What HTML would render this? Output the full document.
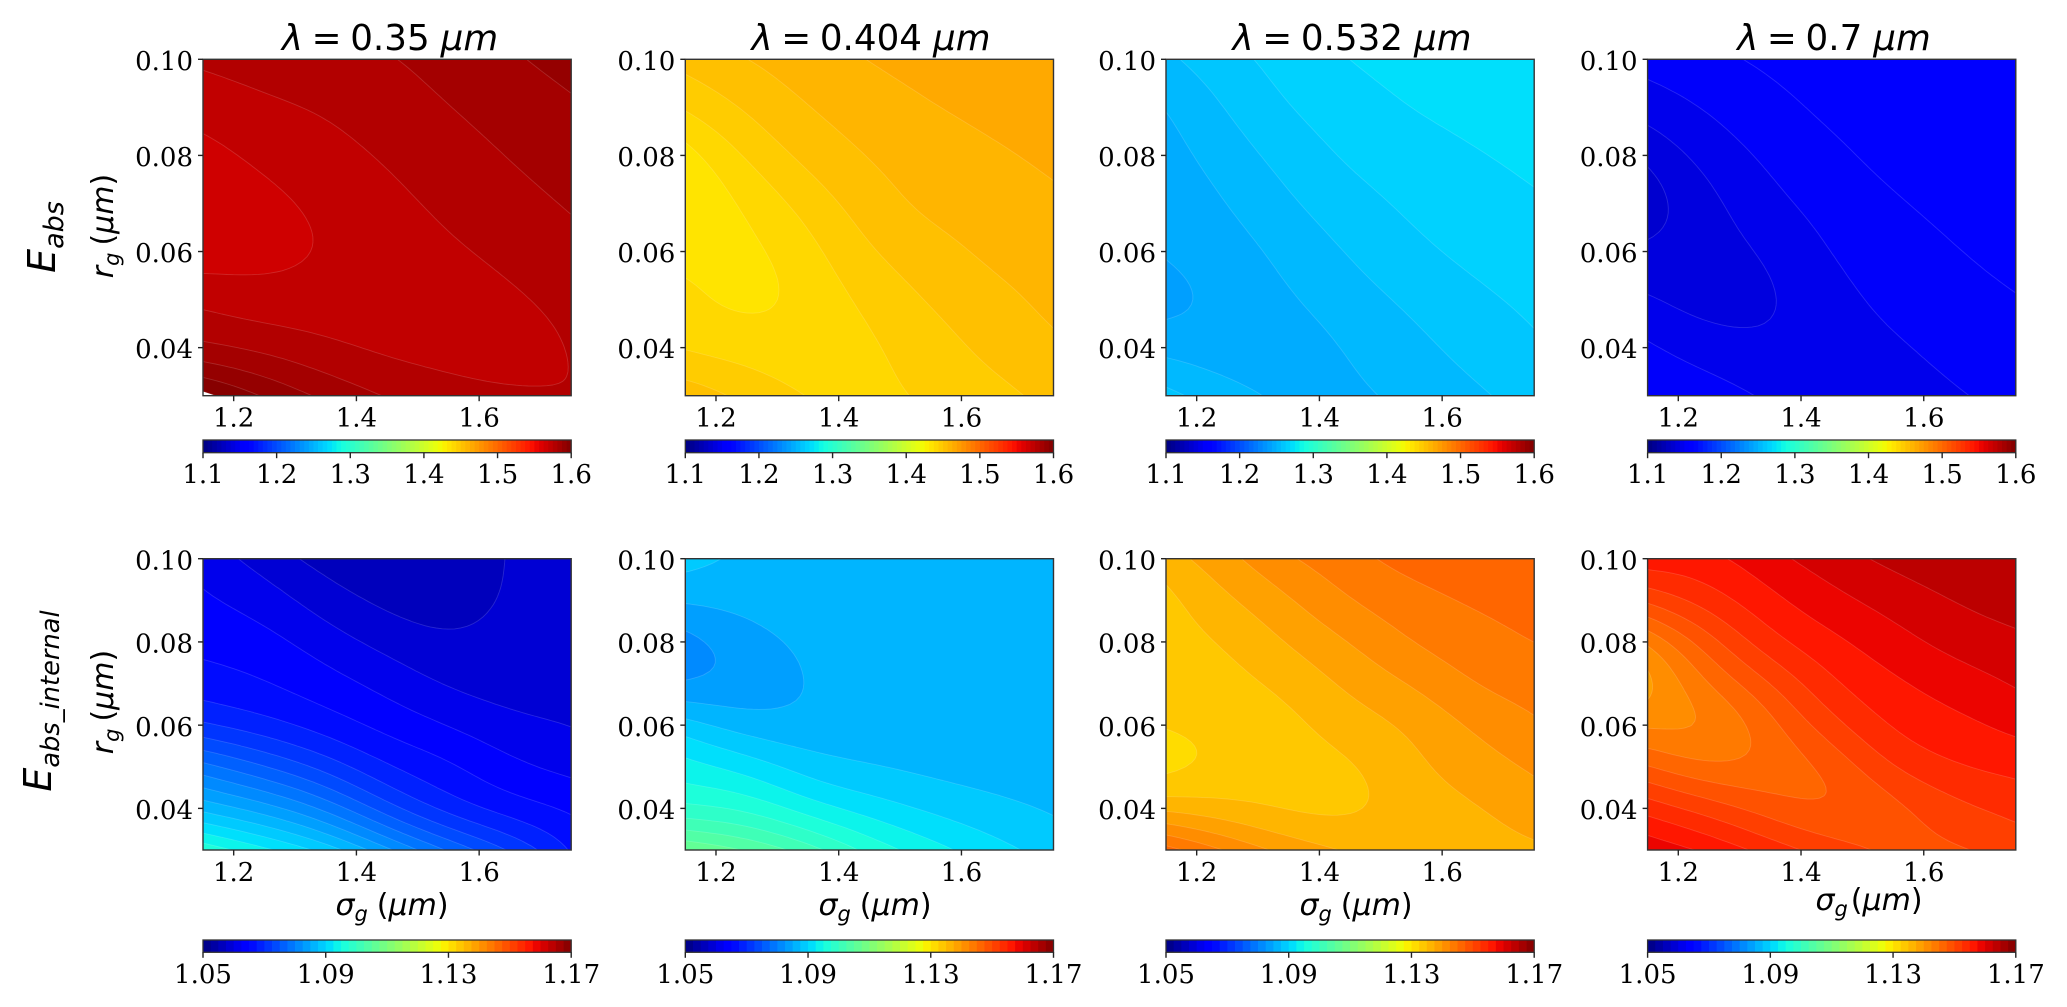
<!DOCTYPE html>
<html lang="en">
<head>
<meta charset="utf-8">
<title>Absorption enhancement contour maps</title>
<style>
html,body{margin:0;padding:0;background:#fff;}
svg{display:block;}
text{fill:#000;}
.math{font-family:"DejaVu Sans","Liberation Sans",sans-serif;}
.serif{font-family:"DejaVu Serif","Liberation Serif",serif;}
</style>
</head>
<body>
<svg id="figure" xmlns="http://www.w3.org/2000/svg" width="2067" height="1007" viewBox="0 0 2067 1007">
<rect width="2067" height="1007" fill="#fff"/>

<text class="math" x="390" y="50" text-anchor="middle" font-size="35.7"><tspan font-style="italic">λ</tspan><tspan dx="8.6">=</tspan><tspan dx="8.7">0.35</tspan><tspan dx="11" font-style="italic">μm</tspan></text>
<text class="math" x="871" y="50" text-anchor="middle" font-size="35.7"><tspan font-style="italic">λ</tspan><tspan dx="8.6">=</tspan><tspan dx="8.7">0.404</tspan><tspan dx="11" font-style="italic">μm</tspan></text>
<text class="math" x="1352" y="50" text-anchor="middle" font-size="35.7"><tspan font-style="italic">λ</tspan><tspan dx="8.6">=</tspan><tspan dx="8.7">0.532</tspan><tspan dx="11" font-style="italic">μm</tspan></text>
<text class="math" x="1834" y="50" text-anchor="middle" font-size="35.7"><tspan font-style="italic">λ</tspan><tspan dx="8.6">=</tspan><tspan dx="8.7">0.7</tspan><tspan dx="11" font-style="italic">μm</tspan></text>

<text class="math" transform="translate(55,237) rotate(-90)" text-anchor="middle" font-size="38" font-style="italic">E<tspan dy="8" font-size="27">abs</tspan></text>
<text class="math" transform="translate(51,701) rotate(-90)" text-anchor="middle" font-size="38" font-style="italic">E<tspan dy="8" font-size="25.7">abs_internal</tspan></text>

<text class="math" transform="translate(113,226) rotate(-90)" text-anchor="middle" font-size="30"><tspan font-style="italic">r</tspan><tspan dy="6" font-size="21" font-style="italic">g</tspan><tspan dy="-6" dx="7">(</tspan><tspan font-style="italic">μm</tspan>)</text>
<text class="math" transform="translate(113,702) rotate(-90)" text-anchor="middle" font-size="30"><tspan font-style="italic">r</tspan><tspan dy="6" font-size="21" font-style="italic">g</tspan><tspan dy="-6" dx="7">(</tspan><tspan font-style="italic">μm</tspan>)</text>

<text class="math" x="392" y="915" text-anchor="middle" font-size="30"><tspan font-style="italic">σ</tspan><tspan dy="6" font-size="21" font-style="italic">g</tspan><tspan dy="-6" dx="9">(</tspan><tspan font-style="italic">μm</tspan>)</text>
<text class="math" x="875" y="915" text-anchor="middle" font-size="30"><tspan font-style="italic">σ</tspan><tspan dy="6" font-size="21" font-style="italic">g</tspan><tspan dy="-6" dx="9">(</tspan><tspan font-style="italic">μm</tspan>)</text>
<text class="math" x="1356" y="915" text-anchor="middle" font-size="30"><tspan font-style="italic">σ</tspan><tspan dy="6" font-size="21" font-style="italic">g</tspan><tspan dy="-6" dx="9">(</tspan><tspan font-style="italic">μm</tspan>)</text>
<text class="math" x="1869" y="910" text-anchor="middle" font-size="30"><tspan font-style="italic">σ</tspan><tspan dy="6" font-size="21" font-style="italic">g</tspan><tspan dy="-6" dx="3">(</tspan><tspan font-style="italic">μm</tspan>)</text>

<g id="plots"></g>
</svg>

<script>
// Grid axes of the sampled surface
const sigmaGrid = [1.15, 1.25, 1.35, 1.45, 1.55, 1.65, 1.75];
const radiusGrid = [0.10, 0.09, 0.08, 0.07, 0.06, 0.05, 0.04, 0.03];

// Tick labels
const sigmaTicks = [1.2, 1.4, 1.6];
const radiusTicks = [0.10, 0.08, 0.06, 0.04];
const topBarTicks = [1.1, 1.2, 1.3, 1.4, 1.5, 1.6];
const bottomBarTicks = [1.05, 1.09, 1.13, 1.17];

// Colour scale ranges and contour spacing for each row
const topRange = [1.1, 1.6];
const bottomRange = [1.05, 1.17];
const topLevelStep = 0.00625;
const bottomLevelStep = 0.0025;

// Reference contour level for each panel
const topReferenceLevels = [1.56875, 1.4375, 1.24375, 1.1375];
const bottomReferenceLevels = [1.0575, 1.085, 1.135, 1.14];

// Surface values per panel: rows follow radiusGrid, columns follow sigmaGrid.
const eAbs350 = [
  [1.15, 1.4, 1.65, 1.92, 2.35, 2.87, 3.35],
  [0.48, 0.85, 1.07, 1.53, 1.98, 2.42, 2.85],
  [-0.4, 0.26, 0.67, 1.1, 1.57, 2.05, 2.5],
  [-0.75, -0.3, 0.22, 0.75, 1.2, 1.65, 2.08],
  [-0.7, -0.35, 0.02, 0.45, 0.85, 1.3, 1.72],
  [0.85, 0.35, 0.42, 0.38, 0.4, 0.82, 1.35],
  [1.97, 1.68, 1.12, 0.72, 0.55, 0.5, 1.0],
  [5.3, 3.85, 2.75, 1.9, 1.4, 1.12, 1.03]
];
const eAbs404 = [
  [2.35, 3.0, 3.55, 4.03, 4.45, 4.7, 4.85],
  [1.2, 2.17, 3.03, 3.48, 3.95, 4.3, 4.5],
  [-0.5, 1.15, 2.35, 3.1, 3.47, 3.85, 4.2],
  [-1.05, 0.1, 1.4, 2.55, 3.3, 3.5, 3.82],
  [-0.35, -0.35, 0.65, 1.98, 2.6, 3.25, 3.48],
  [0.3, -0.4, 0.25, 1.27, 2.12, 2.7, 3.26],
  [0.75, 0.55, 0.35, 0.8, 1.55, 2.3, 2.82],
  [2.65, 1.7, 0.9, 0.75, 1.15, 1.68, 2.3]
];
const eAbs532 = [
  [1.8, 2.67, 3.43, 4.03, 4.4, 4.6, 4.75],
  [1.0, 2.06, 3.03, 3.55, 4.04, 4.32, 4.55],
  [0.6, 1.5, 2.4, 3.2, 3.55, 3.92, 4.25],
  [0.25, 0.98, 1.87, 2.63, 3.2, 3.52, 3.87],
  [0.18, 0.55, 1.3, 2.08, 2.8, 3.25, 3.53],
  [-0.45, 0.25, 0.9, 1.55, 2.2, 2.8, 3.2],
  [0.65, 0.33, 0.5, 1.05, 1.7, 2.35, 2.87],
  [2.3, 1.35, 0.75, 0.8, 1.25, 1.82, 2.4]
];
const eAbs700 = [
  [2.35, 2.75, 3.2, 3.5, 3.7, 3.85, 3.95],
  [1.5, 2.12, 2.7, 3.25, 3.5, 3.7, 3.85],
  [0.2, 1.45, 2.2, 2.78, 3.35, 3.6, 3.75],
  [-0.6, 0.7, 1.8, 2.35, 2.88, 3.3, 3.55],
  [0.25, 0.5, 1.15, 2.1, 2.55, 2.95, 3.3],
  [1.05, 0.45, 0.8, 1.65, 2.3, 2.65, 2.95],
  [2.2, 1.48, 1.15, 1.45, 1.85, 2.25, 2.6],
  [2.9, 2.5, 1.8, 1.55, 1.65, 1.92, 2.25]
];
const eInternal350 = [
  [1.55, 0.6, -0.45, -0.8, -0.6, 0.1, 0.45],
  [2.18, 1.55, 0.45, -0.3, -0.55, 0.15, 0.6],
  [2.7, 2.4, 1.5, 0.65, 0.1, 0.4, 0.75],
  [3.45, 3.05, 2.42, 1.68, 0.82, 0.55, 0.78],
  [4.9, 4.25, 3.45, 2.65, 1.97, 1.2, 0.9],
  [8.45, 7.0, 5.55, 3.95, 3.25, 2.25, 1.68],
  [11.55, 10.47, 8.72, 6.17, 4.33, 3.37, 2.85],
  [15.7, 14.2, 12.7, 10.2, 7.8, 5.9, 3.9]
];
const eInternal404 = [
  [1.35, 0.75, 0.55, 0.5, 0.45, 0.45, 0.45],
  [0.25, 0.4, 0.6, 0.55, 0.5, 0.45, 0.45],
  [-1.55, -0.45, 0.22, 0.45, 0.45, 0.45, 0.45],
  [-1.15, -0.7, 0.07, 0.38, 0.45, 0.45, 0.45],
  [1.5, 0.3, 0.2, 0.4, 0.45, 0.45, 0.45],
  [3.45, 2.72, 1.45, 0.97, 0.7, 0.55, 0.48],
  [4.97, 4.7, 3.35, 2.5, 1.75, 1.25, 0.85],
  [8.9, 7.95, 6.5, 4.6, 3.4, 2.35, 1.6]
];
const eInternal532 = [
  [0.55, 1.7, 2.93, 3.68, 4.4, 4.75, 4.93],
  [-0.35, 0.85, 1.87, 3.05, 3.62, 4.12, 4.5],
  [-0.4, 0.02, 1.1, 1.98, 3.1, 3.55, 4.02],
  [-0.6, -0.33, 0.25, 1.25, 2.02, 3.1, 3.43],
  [-0.85, -0.7, -0.3, 0.52, 1.12, 2.12, 2.88],
  [-1.5, -0.8, -0.42, -0.2, 0.8, 1.5, 2.15],
  [0.6, 0.2, -0.3, -0.35, 0.45, 0.85, 1.48],
  [4.4, 2.85, 1.6, 0.85, 0.5, 0.6, 0.85]
];
const eInternal700 = [
  [6.55, 6.65, 7.72, 8.55, 9.28, 9.7, 9.95],
  [4.4, 5.6, 6.75, 7.7, 8.42, 9.05, 9.45],
  [1.0, 3.6, 5.8, 6.75, 7.6, 8.4, 8.78],
  [-0.5, 2.05, 3.95, 5.97, 6.8, 7.45, 8.1],
  [0.8, 0.65, 2.65, 4.7, 6.25, 6.7, 7.28],
  [3.0, 1.95, 2.2, 3.1, 5.15, 6.0, 6.3],
  [5.68, 4.6, 3.45, 2.75, 3.5, 4.7, 5.3],
  [7.7, 6.8, 5.55, 4.45, 3.75, 3.85, 4.4]
];

const topSurfaces = [eAbs350, eAbs404, eAbs532, eAbs700];
const bottomSurfaces = [eInternal350, eInternal404, eInternal532, eInternal700];

// Layout (not data)
const SVG_NS = 'http://www.w3.org/2000/svg';
const SUBDIVISIONS = 10;
const SMOOTH_RADIUS = 5;
const SMOOTH_PASSES = 2;
const columnLefts = [203, 685.3, 1166, 1647.6];
const columnWidth = 368.2;
const topRow = { top: 59.3, bottom: 395.7, barTop: 440, barBottom: 452.7, tickBase: 426.7, barTextBase: 483, tickDigits: 1 };
const bottomRow = { top: 558.7, bottom: 850, barTop: 940, barBottom: 952.3, tickBase: 881, barTextBase: 983, tickDigits: 2 };

function segment(stops, t) {
  if (t <= stops[0][0]) return stops[0][1];
  for (let i = 1; i < stops.length; i++) {
    if (t <= stops[i][0]) {
      const f = (t - stops[i - 1][0]) / (stops[i][0] - stops[i - 1][0]);
      return stops[i - 1][1] + f * (stops[i][1] - stops[i - 1][1]);
    }
  }
  return stops[stops.length - 1][1];
}
function jet(t) {
  const r = segment([[0, 0], [0.35, 0], [0.66, 1], [0.89, 1], [1, 0.5]], t);
  const g = segment([[0, 0], [0.125, 0], [0.375, 1], [0.64, 1], [0.91, 0], [1, 0]], t);
  const b = segment([[0, 0.5], [0.11, 1], [0.34, 1], [0.65, 0], [1, 0]], t);
  return 'rgb(' + Math.round(r * 255) + ',' + Math.round(g * 255) + ',' + Math.round(b * 255) + ')';
}
function node(tag, parent, attrs) {
  const el = document.createElementNS(SVG_NS, tag);
  for (const k in attrs) el.setAttribute(k, attrs[k]);
  parent.appendChild(el);
  return el;
}
function pick(arr, k) {
  const n = arr.length;
  if (k < 0) return 2 * arr[0] - arr[1];
  if (k >= n) return 2 * arr[n - 1] - arr[n - 2];
  return arr[k];
}
function catmull(a, b, c, d, t) {
  return 0.5 * (2 * b + (c - a) * t + (2 * a - 5 * b + 4 * c - d) * t * t + (3 * b - a - 3 * c + d) * t * t * t);
}
function refine(arr) {
  const out = [];
  for (let i = 0; i < arr.length - 1; i++) {
    for (let s = 0; s < SUBDIVISIONS; s++) {
      out.push(catmull(pick(arr, i - 1), arr[i], arr[i + 1], pick(arr, i + 2), s / SUBDIVISIONS));
    }
  }
  out.push(arr[arr.length - 1]);
  return out;
}
function linearFine(arr) {
  const out = [];
  for (let i = 0; i < arr.length - 1; i++) {
    for (let s = 0; s < SUBDIVISIONS; s++) out.push(arr[i] + (arr[i + 1] - arr[i]) * s / SUBDIVISIONS);
  }
  out.push(arr[arr.length - 1]);
  return out;
}
// Box smoothing with odd reflection, so edge values and linear trends are kept.
function smoothLine(arr) {
  const n = arr.length;
  const at = function (k) {
    if (k < 0) return 2 * arr[0] - arr[-k];
    if (k >= n) return 2 * arr[n - 1] - arr[2 * (n - 1) - k];
    return arr[k];
  };
  return arr.map(function (_, i) {
    let sum = 0;
    for (let d = -SMOOTH_RADIUS; d <= SMOOTH_RADIUS; d++) sum += at(i + d);
    return sum / (2 * SMOOTH_RADIUS + 1);
  });
}
function refineSurface(values) {
  const rows = values.map(refine);
  let out = [];
  for (let j = 0; j < (values.length - 1) * SUBDIVISIONS + 1; j++) out.push([]);
  for (let i = 0; i < rows[0].length; i++) {
    const column = refine(rows.map(function (r) { return r[i]; }));
    column.forEach(function (v, j) { out[j][i] = v; });
  }
  for (let p = 0; p < SMOOTH_PASSES; p++) {
    out = out.map(smoothLine);
    for (let i = 0; i < out[0].length; i++) {
      const column = smoothLine(out.map(function (r) { return r[i]; }));
      column.forEach(function (v, j) { out[j][i] = v; });
    }
  }
  return out;
}
function fmt(v) { return v.toFixed(1); }

function contourGeometry(z, fx, fy, level) {
  let fill = '';
  let line = '';
  for (let j = 0; j < z.length - 1; j++) {
    let runStart = -1;
    for (let i = 0; i < z[0].length - 1; i++) {
      const px = [fx[i], fx[i + 1], fx[i + 1], fx[i]];
      const py = [fy[j], fy[j], fy[j + 1], fy[j + 1]];
      const pv = [z[j][i], z[j][i + 1], z[j + 1][i + 1], z[j + 1][i]];
      const count = pv.filter(function (v) { return v >= level; }).length;
      if (count === 4) {
        if (runStart < 0) runStart = i;
        continue;
      }
      if (runStart >= 0) {
        fill += 'M' + fmt(fx[runStart]) + ' ' + fmt(fy[j]) + 'H' + fmt(fx[i]) + 'V' + fmt(fy[j + 1]) + 'H' + fmt(fx[runStart]) + 'Z';
        runStart = -1;
      }
      if (count === 0) continue;
      const poly = [];
      const cross = [];
      for (let k = 0; k < 4; k++) {
        const m = (k + 1) % 4;
        if (pv[k] >= level) poly.push([px[k], py[k]]);
        if ((pv[k] >= level) !== (pv[m] >= level)) {
          const f = (level - pv[k]) / (pv[m] - pv[k]);
          const pt = [px[k] + f * (px[m] - px[k]), py[k] + f * (py[m] - py[k])];
          poly.push(pt);
          cross.push(pt);
        }
      }
      fill += 'M' + poly.map(function (p) { return fmt(p[0]) + ' ' + fmt(p[1]); }).join('L') + 'Z';
      for (let c = 0; c + 1 < cross.length; c += 2) {
        line += 'M' + fmt(cross[c][0]) + ' ' + fmt(cross[c][1]) + 'L' + fmt(cross[c + 1][0]) + ' ' + fmt(cross[c + 1][1]);
      }
    }
    if (runStart >= 0) {
      const last = z[0].length - 1;
      fill += 'M' + fmt(fx[runStart]) + ' ' + fmt(fy[j]) + 'H' + fmt(fx[last]) + 'V' + fmt(fy[j + 1]) + 'H' + fmt(fx[runStart]) + 'Z';
    }
  }
  return { fill: fill, line: line };
}

function drawPanel(root, values, left, row, range, step, reference, barTicks, barDigits) {
  const sigmaMin = sigmaGrid[0];
  const sigmaMax = sigmaGrid[sigmaGrid.length - 1];
  const radiusMin = radiusGrid[radiusGrid.length - 1];
  const radiusMax = radiusGrid[0];
  const xScale = function (s) { return left + (s - sigmaMin) / (sigmaMax - sigmaMin) * columnWidth; };
  const yScale = function (r) { return row.bottom - (r - radiusMin) / (radiusMax - radiusMin) * (row.bottom - row.top); };
  const barScale = function (v) { return left + (v - range[0]) / (range[1] - range[0]) * columnWidth; };

  const bandColor = function (n) {
    const level = reference + n * step;
    if (level >= range[1] - 1e-9) return '#ffffff';
    return jet((level + step / 2 - range[0]) / (range[1] - range[0]));
  };

  const group = node('g', root, {});
  
  

  const z = refineSurface(values);
  const fx = linearFine(sigmaGrid).map(xScale);
  const fy = linearFine(radiusGrid).map(yScale);
  let lo = Infinity;
  let hi = -Infinity;
  z.forEach(function (r) { r.forEach(function (v) { if (v < lo) lo = v; if (v > hi) hi = v; }); });
  const first = Math.floor(lo);
  const last = Math.floor(hi);

  const base = node('rect', group, { x: left, y: row.top, width: columnWidth, height: row.bottom - row.top, fill: bandColor(first) });
  
  

  const lines = [];
  for (let n = first + 1; n <= last; n++) {
    const geo = contourGeometry(z, fx, fy, n);
    const band = node('path', group, { d: geo.fill, fill: bandColor(n), stroke: 'none' });
    
    
    lines.push(geo.line);
  }
  lines.forEach(function (d) {
    const contour = node('path', group, { d: d, fill: 'none', stroke: '#ffffff', 'stroke-opacity': 0.15, 'stroke-width': 0.9 });
    
    
  });

  const frame = node('rect', group, { x: left, y: row.top, width: columnWidth, height: row.bottom - row.top, fill: 'none', stroke: '#333', 'stroke-width': 1.4 });
  
  

  sigmaTicks.forEach(function (s) {
    const tick = node('line', group, { x1: xScale(s), x2: xScale(s), y1: row.bottom, y2: row.bottom + 5.5, stroke: '#222', 'stroke-width': 1.4 });
    
    
    const label = node('text', group, { x: xScale(s), y: row.tickBase, 'text-anchor': 'middle', 'font-size': 26, class: 'serif' });
    
    
    label.textContent = s.toFixed(1);
  });
  radiusTicks.forEach(function (r) {
    const tick = node('line', group, { x1: left - 5, x2: left, y1: yScale(r), y2: yScale(r), stroke: '#222', 'stroke-width': 1.4 });
    
    
    const label = node('text', group, { x: left - 10, y: yScale(r) + 10.6, 'text-anchor': 'end', 'font-size': 26, class: 'serif' });
    
    
    label.textContent = r.toFixed(2);
  });

  const bar = node('g', group, {});
  
  
  const bandCount = Math.round((range[1] - range[0]) / step);
  for (let k = 0; k < bandCount; k++) {
    const from = range[0] + k * step;
    const cell = node('rect', bar, {
      x: barScale(from), y: row.barTop,
      width: barScale(from + step) - barScale(from) + 0.4,
      height: row.barBottom - row.barTop,
      fill: jet((k + 0.5) / bandCount)
    });
    
    
  }
  const barFrame = node('rect', bar, { x: left, y: row.barTop, width: columnWidth, height: row.barBottom - row.barTop, fill: 'none', stroke: '#333', 'stroke-width': 1.3 });
  
  
  barTicks.forEach(function (v) {
    const tick = node('line', bar, { x1: barScale(v), x2: barScale(v), y1: row.barBottom, y2: row.barBottom + 5.5, stroke: '#222', 'stroke-width': 1.4 });
    
    
    const label = node('text', bar, { x: barScale(v), y: row.barTextBase, 'text-anchor': 'middle', 'font-size': 26, class: 'serif' });
    
    
    label.textContent = v.toFixed(barDigits);
  });
}

const plotRoot = document.getElementById('plots');
columnLefts.forEach(function (left, i) {
  drawPanel(plotRoot, topSurfaces[i], left, topRow, topRange, topLevelStep, topReferenceLevels[i], topBarTicks, 1);
  drawPanel(plotRoot, bottomSurfaces[i], left, bottomRow, bottomRange, bottomLevelStep, bottomReferenceLevels[i], bottomBarTicks, 2);
});
</script>
</body>
</html>
